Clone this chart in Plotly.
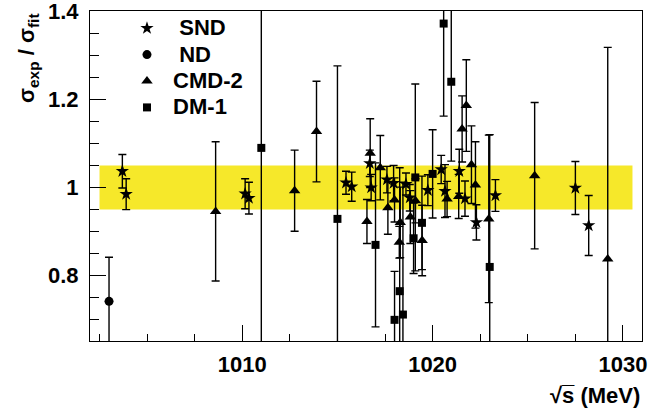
import plotly.graph_objects as go

# ---- data ----
snd_x = [1003.7, 1003.9, 1010.15, 1010.35, 1015.45, 1015.75, 1016.7, 1016.77, 1017.6, 1017.95,
         1018.6, 1018.8, 1019.75, 1020.45, 1020.65, 1021.4, 1021.7, 1022.3, 1023.3, 1027.5, 1028.2]
snd_y = [1.037, 0.985, 0.986, 0.976, 1.011, 1.002, 1.055, 1.000, 1.018, 1.010,
         1.008, 0.977, 0.994, 1.041, 0.992, 1.037, 0.975, 0.921, 0.982, 0.999, 0.914]
snd_e = [0.038, 0.035, 0.034, 0.036, 0.026, 0.033, 0.030, 0.030, 0.030, 0.040,
         0.025, 0.030, 0.035, 0.032, 0.060, 0.050, 0.040, 0.040, 0.036, 0.060, 0.068]

nd_x = [1003.0]
nd_y = [0.742]
nd_e = [0.100]

cmd_x = [1008.6, 1012.75, 1013.9, 1016.55, 1016.72, 1017.25, 1017.65, 1018.0, 1018.3, 1018.25,
         1018.83, 1019.1, 1019.45, 1020.76, 1021.37, 1021.55, 1021.77, 1022.04, 1022.25, 1022.95,
         1025.36, 1029.2]
cmd_y = [0.946, 0.993, 1.127, 0.923, 1.078, 1.045, 0.954, 0.972, 0.921, 0.876,
         0.933, 0.970, 0.880, 0.974, 0.980, 1.133, 1.186, 1.052, 1.006, 0.929,
         1.027, 0.838]
cmd_e = [0.158, 0.092, 0.114, 0.050, 0.078, 0.073, 0.060, 0.050, 0.080, 0.036,
         0.060, 0.050, 0.080, 0.040, 0.050, 0.075, 0.104, 0.088, 0.098, 0.190,
         0.166, 0.480]

dm_x = [1011.0, 1015.0, 1017.0, 1018.0, 1018.27, 1018.44, 1019.0, 1019.09, 1019.44, 1020.0,
        1020.58, 1020.98, 1023.0]
dm_y = [1.090, 0.929, 0.870, 0.700, 0.765, 0.712, 0.885, 1.023, 0.920, 1.031,
        1.372, 1.240, 0.820]
dm_e = [0.500, 0.347, 0.186, 0.110, 0.280, 0.300, 0.080, 0.212, 0.106, 0.100,
        0.210, 0.180, 0.300]

band_lo, band_hi = 0.95, 1.05
band_x0, band_x1 = 1002.5, 1030.5

x_range = [1002.0, 1031.0]
y_range = [0.652, 1.4005]

FONT = "Liberation Sans"
NB = "\u00a0"

def series(name, x, y, e, symbol, size):
    return go.Scatter(
        x=x, y=y, mode="markers", name=name,
        marker=dict(symbol=symbol, size=size, color="black", line=dict(width=0)),
        error_y=dict(type="data", array=e, visible=True, color="black",
                     thickness=1.4, width=4),
    )

def lname(pad, text):
    return "<span style='font-size:22px'>" + NB * pad + text + "</span>"

fig = go.Figure()
fig.add_trace(series(lname(2, "SND"), snd_x, snd_y, snd_e, "star", 10))
fig.add_trace(series(lname(2, "ND"), nd_x, nd_y, nd_e, "circle", 9))
fig.add_trace(series(lname(1, "CMD-2"), cmd_x, cmd_y, cmd_e, "triangle-up", 10))
fig.add_trace(series(lname(1, "DM-1"), dm_x, dm_y, dm_e, "square", 8))

fig.add_shape(type="rect", xref="x", yref="y", x0=band_x0, x1=band_x1,
              y0=band_lo, y1=band_hi, fillcolor="#f6e82a", line=dict(width=0),
              layer="below")

axis_common = dict(showgrid=False, zeroline=False, showline=True, linecolor="black",
                   linewidth=1.2, mirror=True, ticks="inside", tickcolor="black",
                   ticklabeloverflow="allow",
                   tickfont=dict(family=FONT, size=22, color="black", weight="bold"))

fig.update_xaxes(range=x_range, dtick=10, tick0=0, ticklen=16, tickwidth=1.2,
                 minor=dict(dtick=2.5, ticklen=7, ticks="inside", tickcolor="black", tickwidth=1.2),
                 ticklabelstandoff=3, **axis_common)
fig.update_yaxes(range=y_range, dtick=0.2, tick0=0, ticklen=16, tickwidth=1.2,
                 minor=dict(dtick=0.05, ticklen=9, ticks="inside", tickcolor="black", tickwidth=1.2),
                 ticklabelstandoff=6, **axis_common)

fig.add_annotation(text="σ<sub>exp</sub> / σ<sub>fit</sub>", xref="paper", yref="paper",
                   x=0, y=1, xshift=-62, xanchor="center", yanchor="top", textangle=-90,
                   showarrow=False, font=dict(family=FONT, size=22, color="black", weight="bold"))
fig.add_annotation(text="√s\u0305 (MeV)",
                   xref="paper", yref="paper", x=1, y=0, yshift=-54, xanchor="right",
                   yanchor="middle", showarrow=False,
                   font=dict(family=FONT, size=22, color="black", weight="bold"))

fig.update_layout(
    width=666, height=410,
    margin=dict(l=90, r=24, t=11, b=69, autoexpand=False),
    paper_bgcolor="white", plot_bgcolor="white",
    showlegend=True,
    legend=dict(x=0.067, y=1.003, xanchor="left", yanchor="top", bgcolor="rgba(0,0,0,0)",
                font=dict(family=FONT, size=18, color="black", weight="bold"),
                tracegroupgap=0),
)

fig.write_html("out.html")
